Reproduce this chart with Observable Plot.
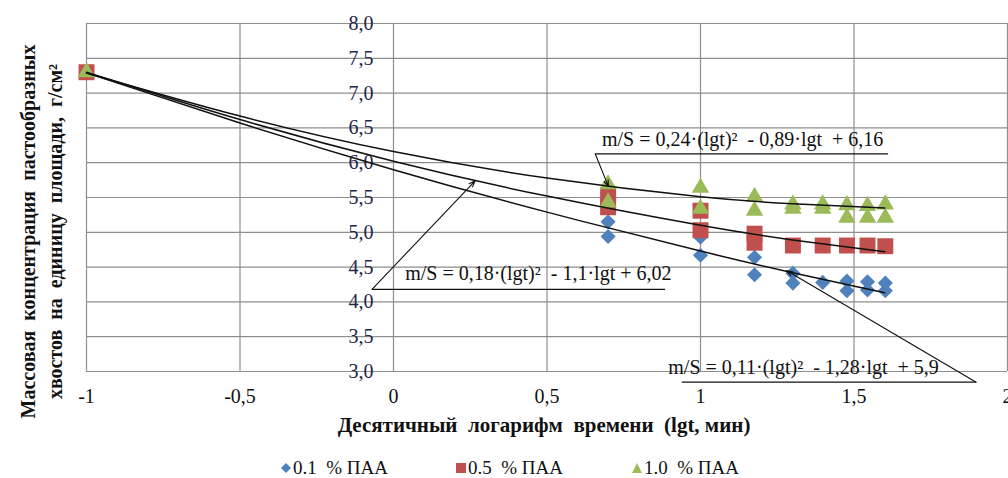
<!DOCTYPE html>
<html><head><meta charset="utf-8">
<script src="https://cdn.jsdelivr.net/npm/d3@7"></script>
<script src="https://cdn.jsdelivr.net/npm/@observablehq/plot@0.6"></script>
<style>
html,body{margin:0;padding:0;background:#fff;}
#wrap{width:1008px;height:478px;position:relative;overflow:hidden;background:#fff;}
#legend{position:absolute;left:0;top:448px;width:1008px;height:30px;font-family:"Liberation Serif","Times New Roman",Tinos,"DejaVu Serif",serif;font-size:19px;color:#111;}
#legend .item{position:absolute;top:10px;line-height:19px;white-space:pre;display:flex;align-items:center;}
#legend svg{margin-right:2px;}
</style></head><body><div id="wrap"><div id="chart"></div><div id="legend"></div></div>
<script>
// ---- data ----
const seriesNames = ["0.1  % ПАА", "0.5  % ПАА", "1.0  % ПАА"];
const seriesColors = ["#4F81BD", "#C0504D", "#9BBB59"];

const lgtBlue  = [-1, 0.699, 0.699, 1, 1, 1.176, 1.176, 1.301, 1.301, 1.398, 1.477, 1.477, 1.544, 1.544, 1.602, 1.602];
const massBlue = [7.30, 5.15, 4.94, 4.93, 4.67, 4.64, 4.39, 4.41, 4.27, 4.28, 4.30, 4.16, 4.29, 4.17, 4.27, 4.16];

const lgtRed  = [-1, 0.699, 0.699, 1, 1, 1.176, 1.176, 1.301, 1.398, 1.477, 1.544, 1.602];
const massRed = [7.30, 5.53, 5.36, 5.31, 5.03, 4.98, 4.85, 4.81, 4.81, 4.81, 4.81, 4.80];

const lgtGreen  = [-1, 0.699, 0.699, 1, 1, 1.176, 1.176, 1.301, 1.301, 1.398, 1.398, 1.477, 1.477, 1.544, 1.544, 1.602, 1.602];
const massGreen = [7.30, 5.69, 5.43, 5.64, 5.34, 5.51, 5.31, 5.40, 5.34, 5.40, 5.34, 5.39, 5.21, 5.38, 5.21, 5.40, 5.21];

// trend lines, values
const trendLgt   = [-1, -0.5, 0, 0.5, 1, 1.3, 1.6];
const trendBlue  = [7.29, 6.57, 5.90, 5.29, 4.73, 4.42, 4.13];
const trendRed   = [7.30, 6.62, 6.02, 5.52, 5.10, 4.89, 4.72];
const trendGreen = [7.29, 6.67, 6.16, 5.78, 5.51, 5.41, 5.35];

const eqLabels = [
  "m/S = 0,11·(lgt)²  - 1,28·lgt  + 5,9",
  "m/S = 0,18·(lgt)²  - 1,1·lgt + 6,02",
  "m/S = 0,24·(lgt)²  - 0,89·lgt  + 6,16"
];

const xTicks = [-1, -0.5, 0, 0.5, 1, 1.5, 2];
const yTicks = [3, 3.5, 4, 4.5, 5, 5.5, 6, 6.5, 7, 7.5, 8];

const xTitle = "Десятичный  логарифм  времени  (lgt, мин)";
const yTitle1 = "Массовая  концентрация  пастообразных";
const yTitle2 = "хвостов  на  единицу  площади,  г/см²";

// ---- build tables ----
const zip = (xs, ys) => xs.map((x, i) => ({x, y: ys[i]}));
const ptsBlue = zip(lgtBlue, massBlue);
const ptsRed = zip(lgtRed, massRed);
const ptsGreen = zip(lgtGreen, massGreen);
const trends = [trendBlue, trendRed, trendGreen].flatMap((vals, k) =>
  trendLgt.map((x, i) => ({x, y: vals[i], s: k})));

// annotation geometry (data coordinates)
const annot = [
  {label: eqLabels[0], tx: 0.895, ty: 2.967, ux1: 0.939, ux2: 1.898, uy: 2.846, ax2: 1.28, ay2: 4.45, from: "right"},
  {label: eqLabels[1], tx: 0.038, ty: 4.318, ux1: -0.070, ux2: 0.885, uy: 4.18, ax2: 0.266, ay2: 5.74, from: "left"},
  {label: eqLabels[2], tx: 0.679, ty: 6.247, ux1: 0.657, ux2: 1.611, uy: 6.128, ax2: 0.70, ay2: 5.66, from: "left"}
];

const fmtX = d => String(d).replace(".", ",");
const fmtY = d => d.toFixed(1).replace(".", ",");

const W = 1008, H = 448, frameTop = 23, frameBottom = 371;
const serif = "'Liberation Serif', 'Times New Roman', Tinos, 'DejaVu Serif', serif";

const chart = Plot.plot({
  width: W, height: H,
  marginLeft: 86, marginRight: 1, marginTop: frameTop, marginBottom: H - frameBottom,
  x: {domain: [-1, 2], ticks: xTicks, tickFormat: fmtX, tickSize: 0, tickPadding: 17, label: null},
  y: {domain: [3, 8], axis: null},
  style: {fontFamily: serif, fontSize: "20px", color: "#111", background: "white", overflow: "visible"},
  marks: [
    Plot.ruleY(yTicks, {y: d => d, stroke: "#8e8e8e", strokeWidth: 1.2, strokeOpacity: 1}),
    Plot.ruleX(xTicks, {x: d => d, stroke: "#8e8e8e", strokeWidth: 1.2, strokeOpacity: 1}),
    Plot.text(yTicks, {x: 0, y: d => d, text: fmtY, textAnchor: "end", dx: -20, fill: "#22264a", fontSize: 20, fontFamily: serif}),
    Plot.dot(ptsBlue, {x: "x", y: "y", symbol: "diamond2", r: 6.8, fill: seriesColors[0], stroke: "none"}),
    Plot.dot(ptsRed, {x: "x", y: "y", symbol: "square", r: 9, fill: seriesColors[1], stroke: "none"}),
    Plot.dot(ptsGreen, {x: "x", y: "y", symbol: "triangle", r: 6.5, fill: seriesColors[2], stroke: "none"}),
    Plot.line(trends, {x: "x", y: "y", z: "s", curve: "natural", stroke: "#111", strokeWidth: 1.5}),
    Plot.link(annot, {x1: "ux1", x2: "ux2", y1: "uy", y2: "uy", stroke: "#111", strokeWidth: 1.3}),
    Plot.arrow(annot, {x1: d => d.from === "right" ? d.ux2 : d.ux1, y1: "uy", x2: "ax2", y2: "ay2", stroke: "#111", strokeWidth: 1.1, headLength: 9, headAngle: 40}),
    Plot.text(annot, {x: "tx", y: "ty", text: "label", textAnchor: "start", lineAnchor: "bottom", fontSize: 20, fontFamily: serif, fill: "#111"}),
    Plot.text([xTitle], {frameAnchor: "bottom", textAnchor: "middle", lineAnchor: "middle", dx: -3, dy: 54, fontWeight: "bold", fontSize: 21, fontFamily: serif, fill: "#111"}),
    Plot.text([yTitle1], {frameAnchor: "left", textAnchor: "middle", lineAnchor: "middle", dx: -58, dy: 34, rotate: -90, fontWeight: "bold", fontSize: 20, fontFamily: serif, fill: "#111"}),
    Plot.text([yTitle2], {frameAnchor: "left", textAnchor: "middle", lineAnchor: "middle", dx: -31, dy: 34, rotate: -90, fontWeight: "bold", fontSize: 20, fontFamily: serif, fill: "#111"})
  ]
});
document.getElementById("chart").appendChild(chart);

// legend below the chart
const legend = document.getElementById("legend");
const legendLeft = [281, 456, 632];
const shapes = [
  '<polygon points="5,0 10,5 5,10 0,5"/>',
  '<rect x="0" y="0" width="10" height="10"/>',
  '<polygon points="5,0 10,10 0,10"/>'
];
seriesNames.forEach((name, i) => {
  const el = document.createElement("div");
  el.className = "item";
  el.style.left = legendLeft[i] + "px";
  el.innerHTML = `<svg width="10" height="10" viewBox="0 0 10 10" style="fill:${seriesColors[i]}">${shapes[i]}</svg><span>${name}</span>`;
  legend.appendChild(el);
});
</script></body></html>
